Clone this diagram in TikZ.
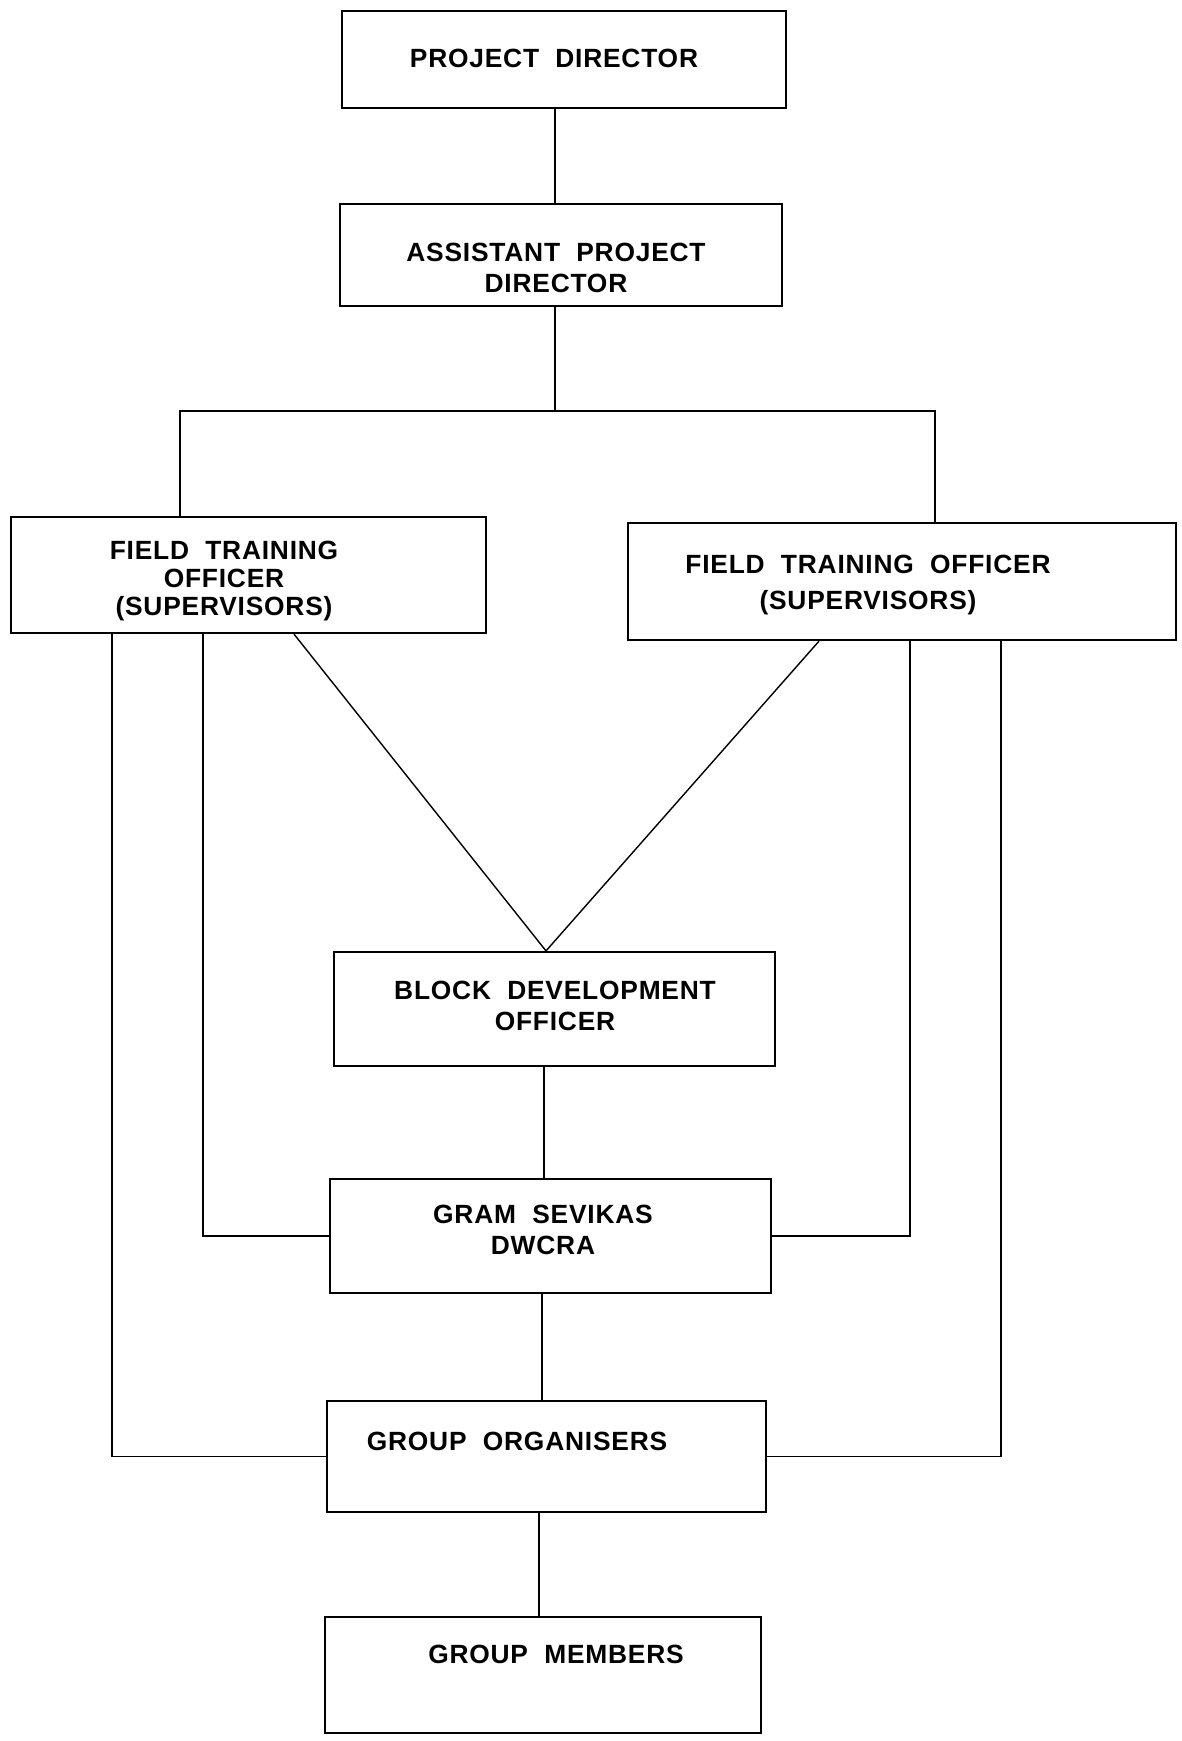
\documentclass[tikz,border=0pt]{standalone}
\usepackage{fontspec}
\setmainfont{Liberation Sans}[LetterSpace=3,WordSpace=2]
\usetikzlibrary{calc}
\tikzstyle{boxline}=[draw=black,line width=1.3pt,inner sep=0pt]
\tikzstyle{linkline}=[draw=black,line width=0.8pt]
\tikzstyle{labeltext}=[font=\fontsize{15}{18}\selectfont\bfseries,align=center,inner sep=0pt]

\begin{document}
\begin{tikzpicture}[x=0.02cm,y=-0.02cm]
    \useasboundingbox (0,0) rectangle (1182,1741);

    % boxes
    \node[boxline,minimum width=8.88cm,minimum height=1.94cm] (pd) at (564,59.5) {};
    \node[boxline,minimum width=8.84cm,minimum height=2.04cm] (apd) at (561,255) {};
    \node[boxline,minimum width=9.5cm,minimum height=2.32cm] (ftoL) at (248.5,575) {};
    \node[boxline,minimum width=10.96cm,minimum height=2.34cm] (ftoR) at (902,581.5) {};
    \node[boxline,minimum width=8.82cm,minimum height=2.28cm] (bdo) at (554.5,1009) {};
    \node[boxline,minimum width=8.82cm,minimum height=2.28cm] (gs) at (550.5,1236) {};
    \node[boxline,minimum width=8.78cm,minimum height=2.22cm] (go) at (546.5,1456.5) {};
    \node[boxline,minimum width=8.72cm,minimum height=2.32cm] (gm) at (543,1675) {};

    % texts
    \node[labeltext] (pdtext) at (554,58) {PROJECT DIRECTOR};
    \node[labeltext] (apdtext) at (556,268) {ASSISTANT PROJECT\\DIRECTOR};
    \node[labeltext] (ftoLtext) at (224,581) {FIELD TRAINING\\[-2pt]OFFICER\\[-2pt](SUPERVISORS)};
    \node[labeltext] (ftoRtext) at (868,585) {FIELD TRAINING OFFICER\\[3pt](SUPERVISORS)};
    \node[labeltext] (bdotext) at (555,1006) {BLOCK DEVELOPMENT\\OFFICER};
    \node[labeltext] (gstext) at (543,1230) {GRAM SEVIKAS\\DWCRA};
    \node[labeltext] (gotext) at (517,1441) {GROUP ORGANISERS};
    \node[labeltext] (gmtext) at (556,1654) {GROUP MEMBERS};

    % columns of the connectors
    \coordinate (spineA) at (555,0);
    \coordinate (spineB) at (544,0);
    \coordinate (spineC) at (542,0);
    \coordinate (spineD) at (539,0);
    \coordinate (busL) at (180,411);
    \coordinate (busR) at (935,411);
    \coordinate (colA) at (112,0);
    \coordinate (colB) at (203,0);
    \coordinate (colC) at (294,0);
    \coordinate (colD) at (819,0);
    \coordinate (colE) at (910,0);
    \coordinate (colF) at (1001,0);
    \coordinate (vtip) at (546,0);

    % connectors
    \draw[linkline] (pd.south -| spineA) -- (apd.north -| spineA);
    \draw[linkline] (apd.south -| spineA) -- (spineA |- busL);
    \draw[linkline] (ftoL.north -| busL) -- (busL) -- (busR) -- (ftoR.north -| busR);
    \draw[linkline] (ftoL.south -| colC) -- (bdo.north -| vtip) -- (ftoR.south -| colD);
    \draw[linkline] (ftoL.south -| colB) |- (gs.west);
    \draw[linkline] (ftoR.south -| colE) |- (gs.east);
    \draw[linkline] (ftoL.south -| colA) |- (go.west);
    \draw[linkline] (ftoR.south -| colF) |- (go.east);
    \draw[linkline] (bdo.south -| spineB) -- (gs.north -| spineB);
    \draw[linkline] (gs.south -| spineC) -- (go.north -| spineC);
    \draw[linkline] (go.south -| spineD) -- (gm.north -| spineD);
  \end{tikzpicture}
\end{document}
